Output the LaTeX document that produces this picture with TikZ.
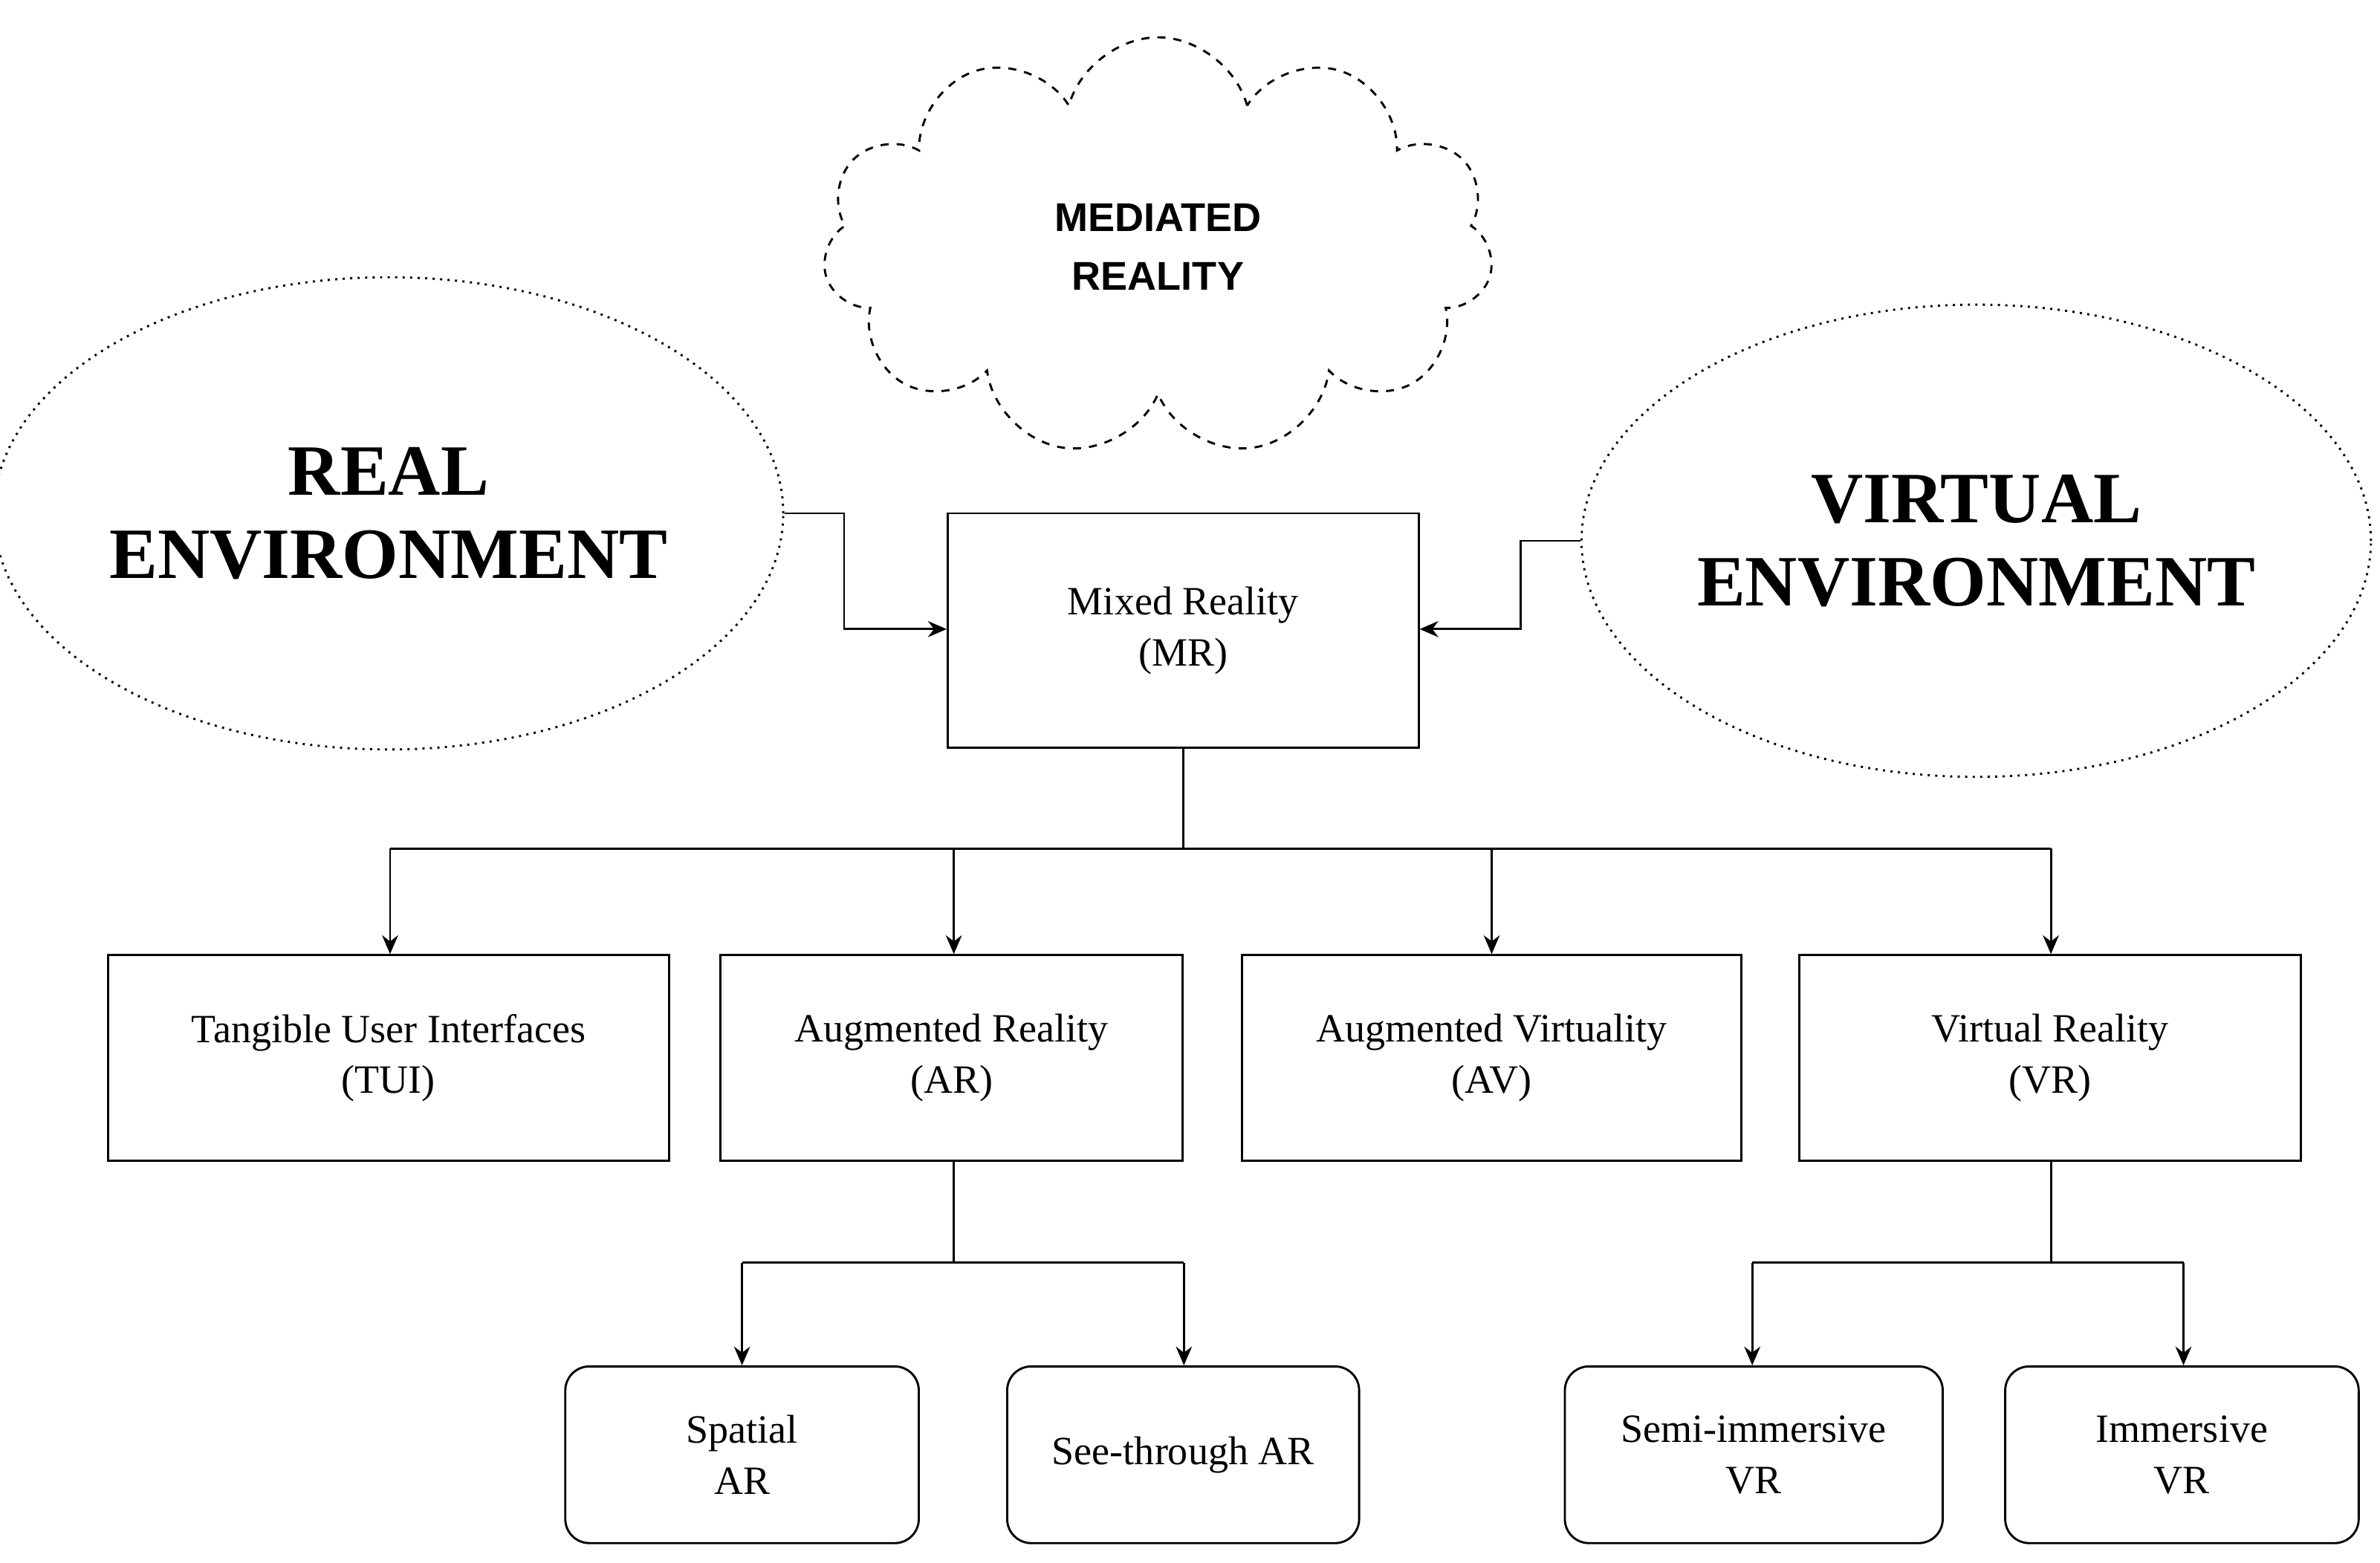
\documentclass[tikz,border=0pt]{standalone}
\usepackage{fontspec}
\setmainfont{Liberation Serif}
\newfontfamily\sansbold{Liberation Sans}
\usetikzlibrary{shapes.symbols,shapes.geometric,arrows.meta}

\newlength{\du}
\setlength{\du}{0.02cm}

\tikzset{
  box/.style={draw, thick, align=center, font=\fontsize{15}{19}\selectfont, inner sep=0pt},
  leaf/.style={draw, thick, rounded corners=9pt, align=center, font=\fontsize{15}{19}\selectfont, inner sep=0pt},
  env/.style={draw, dotted, thick, ellipse, align=center, font=\fontsize{27}{31}\selectfont\bfseries, inner sep=0pt},
  link/.style={thick, -{Stealth[length=7pt,width=6pt]}},
}

\begin{document}
\begin{tikzpicture}[x=0.02cm, y=-0.02cm]
\useasboundingbox (0,0) rectangle (1562,1026);

% clouds and environments
\node[cloud, draw, dashed, thick, cloud puffs=11, aspect=1.6, minimum width=440\du, minimum height=275\du, inner sep=0pt,
  align=center, font=\fontsize{15}{22}\sansbold\bfseries] (mediated) at (760,162) {MEDIATED\\REALITY};
\node[env, minimum width=464\du, minimum height=310\du] (real) at (255,337) {REAL\\ENVIRONMENT};
\node[env, minimum width=464\du, minimum height=310\du] (virtual) at (1297,355) {VIRTUAL\\ENVIRONMENT};

% boxes
\node[box, minimum width=309\du, minimum height=154\du] (mr) at (776.5,414) {Mixed Reality\\(MR)};
\node[box, minimum width=368\du, minimum height=135\du] (tui) at (255,694.5) {Tangible User Interfaces\\(TUI)};
\node[box, minimum width=303\du, minimum height=135\du] (ar) at (624.5,694.5) {Augmented Reality\\(AR)};
\node[box, minimum width=328\du, minimum height=135\du] (av) at (979,694.5) {Augmented Virtuality\\(AV)};
\node[box, minimum width=329\du, minimum height=135\du] (vr) at (1345.5,694.5) {Virtual Reality\\(VR)};

\node[leaf, minimum width=232\du, minimum height=116\du] (spatial) at (487,955) {Spatial\\AR};
\node[leaf, minimum width=231\du, minimum height=116\du] (seethrough) at (776.5,955) {See-through AR};
\node[leaf, minimum width=248\du, minimum height=116\du] (semi) at (1151,955) {Semi-immersive\\VR};
\node[leaf, minimum width=232\du, minimum height=116\du] (immersive) at (1432,955) {Immersive\\VR};

% connectors
\draw[link] (real.east |- 0,337) -- (554,337) |- (mr.west |- 0,413);
\draw[link] (virtual.west |- 0,355) -- (998,355) |- (mr.east |- 0,413);

\coordinate (mrsplit) at (776.5,557);
\draw[thick] (mr.south) -- (mrsplit);
\draw[thick] (256,557) -- (1346,557);
\foreach \t/\x in {tui/256, ar/626, av/979, vr/1346}
  \draw[link] (\x,557) -- (\t.north -| \x,0);

\draw[thick] (ar.south -| 626,0) -- (626,829);
\draw[thick] (487,829) -- (777,829);
\draw[link] (487,829) -- (spatial.north -| 487,0);
\draw[link] (777,829) -- (seethrough.north -| 777,0);

\draw[thick] (vr.south -| 1346,0) -- (1346,829);
\draw[thick] (1150,829) -- (1433,829);
\draw[link] (1150,829) -- (semi.north -| 1150,0);
\draw[link] (1433,829) -- (immersive.north -| 1433,0);
\end{tikzpicture}
\end{document}
